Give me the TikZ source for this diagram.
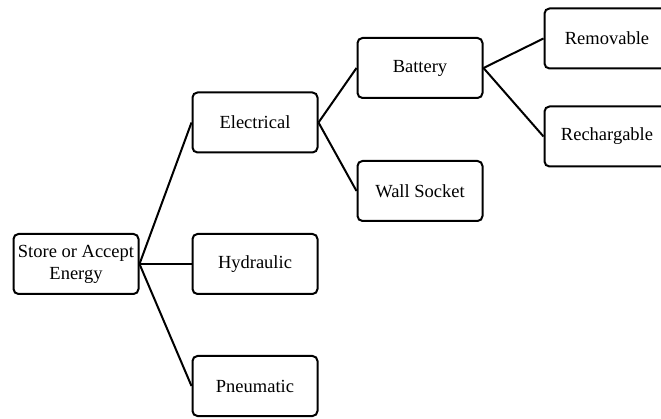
\documentclass[tikz,border=0pt]{standalone}
\usepackage{fontspec}
\setmainfont{Liberation Serif}
\usetikzlibrary{positioning}

\begin{document}
\begin{tikzpicture}[
    x=1pt, y=1pt,
    stage/.style={rectangle, draw, rounded corners=5pt, line width=2pt, minimum width=125pt, minimum height=60pt, align=center, font=\fontsize{18.5}{22}\selectfont},
    link/.style={line width=2pt}
]
\useasboundingbox (0,0) rectangle (661,-419);

% Level 1: Root
\node[stage] (energy) at (76,-264) {Store or Accept\\Energy};

% Level 2: Forms
\node[stage, right=52pt of energy, yshift=141.5pt] (electrical) {Electrical};
\node[stage, right=52pt of energy] (hydraulic) {Hydraulic};
\node[stage, right=52pt of energy, yshift=-122pt] (pneumatic) {Pneumatic};

% Level 3: Sources
\node[stage, right=38pt of electrical, yshift=54.5pt] (battery) {Battery};
\node[stage, right=38pt of electrical, yshift=-68.5pt] (wallsocket) {Wall Socket};

% Level 4: Battery types
\node[stage, right=60pt of battery, yshift=29.5pt] (removable) {Removable};
\node[stage, right=60pt of battery, yshift=-68.5pt] (rechargable) {Rechargable};

% Connectors
\draw[link] (energy.east) -- (electrical.west);
\draw[link] (energy.east) -- (hydraulic.west);
\draw[link] (energy.east) -- (pneumatic.west);
\draw[link] (electrical.east) -- (battery.west);
\draw[link] (electrical.east) -- (wallsocket.west);
\draw[link] (battery.east) -- (removable.west);
\draw[link] (battery.east) -- (rechargable.west);

\end{tikzpicture}
\end{document}
